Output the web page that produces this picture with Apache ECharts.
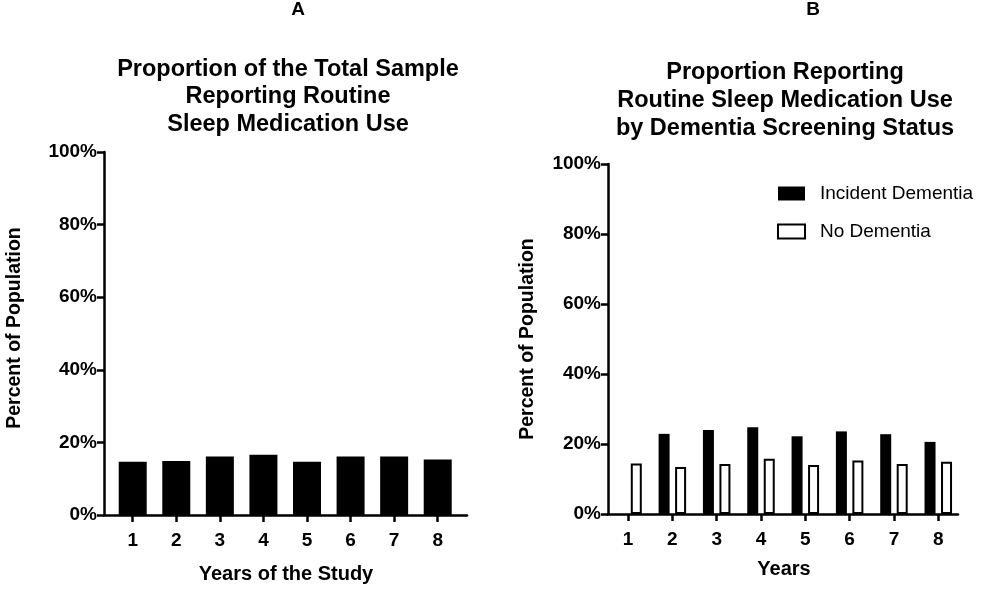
<!DOCTYPE html>
<html>
<head>
<meta charset="utf-8">
<script src="https://cdn.jsdelivr.net/npm/echarts@6/dist/echarts.min.js"></script>
<style>
html,body{margin:0;padding:0;background:#fff;}
#main{width:987px;height:592px;}
</style>
</head>
<body>
<div id="main"></div>
<script>
// ---- data ----
var years = [1, 2, 3, 4, 5, 6, 7, 8];
var totalSample = [14.7, 14.9, 16.1, 16.6, 14.7, 16.1, 16.1, 15.3];
var incidentDementia = [null, 22.9, 24.0, 24.8, 22.2, 23.6, 22.8, 20.6];
var noDementia = [14.4, 13.4, 14.3, 15.8, 14.0, 15.3, 14.3, 14.9];
var yTicks = [0, 20, 40, 60, 80, 100];

function pairs(vals) {
  return years.map(function (y, i) { return [y, vals[i]]; });
}

var FONT = 'Liberation Sans, Arial, sans-serif';
var chart = echarts.init(document.getElementById('main'), null, {renderer: 'canvas'});

function xAxisDef(idx, min, max) {
  return {
    type: 'value', gridIndex: idx, min: min, max: max,
    axisLine: {show: true, onZero: false, lineStyle: {color: '#000', width: 2.5}},
    axisTick: {show: true, customValues: years, length: 7, lineStyle: {color: '#000', width: 2.5}},
    axisLabel: {show: true, customValues: years, margin: 16, color: '#000', fontSize: 19, fontWeight: 'bold', fontFamily: FONT},
    splitLine: {show: false}
  };
}
function yAxisDef(idx) {
  return {
    type: 'value', gridIndex: idx, min: 0, max: 100, interval: 20,
    axisLine: {show: true, lineStyle: {color: '#000', width: 2.5}},
    axisTick: {show: true, customValues: yTicks, length: 7, lineStyle: {color: '#000', width: 2.5}},
    axisLabel: {customValues: yTicks, margin: 7, color: '#000', fontSize: 19, fontWeight: 'bold', fontFamily: FONT,
      formatter: function (v) { return v + '%'; }},
    splitLine: {show: false}
  };
}

var option = {
  backgroundColor: '#fff',
  animation: false,
  grid: [
    {left: 104, right: 520, top: 152, bottom: 77},
    {left: 608, right: 29, top: 164, bottom: 78}
  ],
  xAxis: [xAxisDef(0, 0.341, 8.672), xAxisDef(1, 0.548, 8.445)],
  yAxis: [yAxisDef(0), yAxisDef(1)],
  legend: {
    orient: 'vertical', left: 777, top: 184, padding: 0,
    data: ['Incident Dementia', 'No Dementia'],
    icon: 'rect', itemWidth: 27, itemHeight: 14, itemGap: 19,
    textStyle: {color: '#000', fontSize: 19, fontFamily: FONT, padding: [0, 0, 0, 10]}
  },
  series: [
    {
      name: 'Total Sample', type: 'bar', xAxisIndex: 0, yAxisIndex: 0,
      barWidth: 28, itemStyle: {color: '#000'},
      data: pairs(totalSample)
    },
    {
      name: 'Incident Dementia', type: 'bar', xAxisIndex: 1, yAxisIndex: 1,
      barWidth: 11, barGap: '50%', itemStyle: {color: '#000'},
      data: pairs(incidentDementia)
    },
    {
      name: 'No Dementia', type: 'bar', xAxisIndex: 1, yAxisIndex: 1,
      barWidth: 11, barGap: '50%', itemStyle: {color: '#fff', borderColor: '#000', borderWidth: 2},
      data: pairs(noDementia)
    }
  ],
  graphic: [
    {type: 'text', x: 298, y: 10, style: {text: 'A', font: 'bold 19px ' + FONT, fill: '#000', textAlign: 'center', textVerticalAlign: 'middle'}},
    {type: 'text', x: 813, y: 10, style: {text: 'B', font: 'bold 19px ' + FONT, fill: '#000', textAlign: 'center', textVerticalAlign: 'middle'}},
    {type: 'text', x: 288, y: 97, style: {text: 'Proportion of the Total Sample\nReporting Routine\nSleep Medication Use', font: 'bold 23.5px ' + FONT, lineHeight: 27.5, fill: '#000', textAlign: 'center', textVerticalAlign: 'middle'}},
    {type: 'text', x: 785, y: 101, style: {text: 'Proportion Reporting\nRoutine Sleep Medication Use\nby Dementia Screening Status', font: 'bold 23.5px ' + FONT, lineHeight: 28, fill: '#000', textAlign: 'center', textVerticalAlign: 'middle'}},
    {type: 'text', x: 15, y: 328, rotation: Math.PI / 2, style: {text: 'Percent of Population', font: 'bold 19.5px ' + FONT, fill: '#000', textAlign: 'center', textVerticalAlign: 'middle'}},
    {type: 'text', x: 528, y: 339, rotation: Math.PI / 2, style: {text: 'Percent of Population', font: 'bold 19.5px ' + FONT, fill: '#000', textAlign: 'center', textVerticalAlign: 'middle'}},
    {type: 'text', x: 286, y: 574, style: {text: 'Years of the Study', font: 'bold 20px ' + FONT, fill: '#000', textAlign: 'center', textVerticalAlign: 'middle'}},
    {type: 'text', x: 784, y: 569, style: {text: 'Years', font: 'bold 20px ' + FONT, fill: '#000', textAlign: 'center', textVerticalAlign: 'middle'}}
  ]
};
chart.setOption(option);
</script>
</body>
</html>
